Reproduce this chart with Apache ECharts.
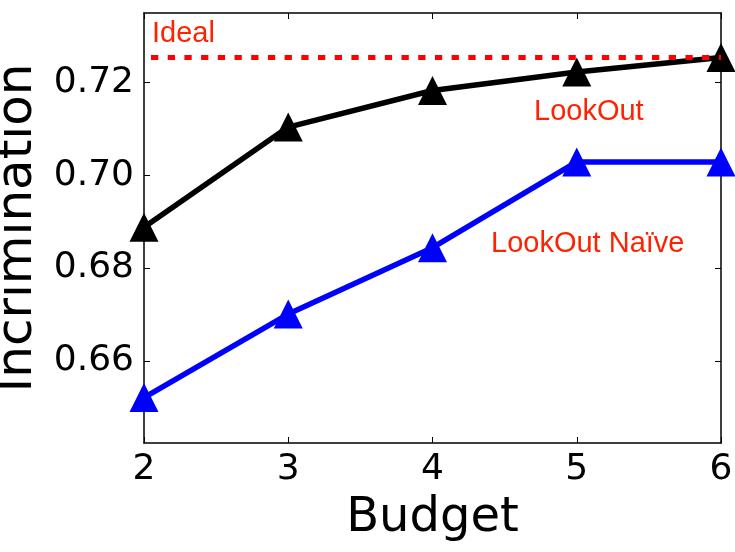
<!DOCTYPE html>
<html>
<head>
<meta charset="utf-8">
<script src="https://cdn.jsdelivr.net/npm/echarts@6/dist/echarts.min.js"></script>
<style>html,body{margin:0;padding:0;background:#fff}#c{width:735px;height:552px}</style>
</head>
<body>
<div id="c"></div>
<script>
const budget = [2, 3, 4, 5, 6];
const lookout = [0.6888, 0.7104, 0.7183, 0.7223, 0.7254];
const lookoutNaive = [0.6521, 0.6701, 0.6844, 0.7029, 0.7029];
const ideal = 0.7254;
const yTicks = [0.66, 0.68, 0.70, 0.72];
const xTicks = [2, 3, 4, 5, 6];
const yMin = 0.6423, yMax = 0.735;
const labels = [
  {text: 'Ideal', x: 152, y: 33.5},
  {text: 'LookOut', x: 534, y: 111.5},
  {text: 'LookOut Naïve', x: 491, y: 244}
];

const chart = echarts.init(document.getElementById('c'), null, {renderer: 'canvas'});
const pair = (xs, ys) => xs.map((x, i) => [x, ys[i]]);
const tickFont = 'DejaVu Sans';
const axBase = {
  axisLine: {show: true, onZero: false, lineStyle: {color: '#000', width: 1.5}},
  axisTick: {show: true, inside: true, length: 6, lineStyle: {color: '#000', width: 1}},
  splitLine: {show: false}
};
chart.setOption({
  animation: false,
  backgroundColor: '#fff',
  grid: {left: 144, right: 14, top: 13, bottom: 109, containLabel: false, outerBoundsMode: 'none'},
  xAxis: [
    Object.assign({}, axBase, {
      type: 'value', position: 'bottom', min: 2, max: 6, interval: 1,
      name: 'Budget', nameLocation: 'middle', nameGap: 52,
      nameTextStyle: {fontFamily: tickFont, fontSize: 48, color: '#000'},
      axisLabel: {show: true, margin: 9, fontFamily: tickFont, fontSize: 36, color: '#000',
        customValues: xTicks},
      axisTick: Object.assign({}, axBase.axisTick, {customValues: xTicks})
    }),
    Object.assign({}, axBase, {
      type: 'value', position: 'top', min: 2, max: 6, interval: 1,
      axisLabel: {show: false},
      axisTick: Object.assign({}, axBase.axisTick, {customValues: xTicks})
    })
  ],
  yAxis: [
    Object.assign({}, axBase, {
      type: 'value', position: 'left', min: yMin, max: yMax,
      name: 'Incrimination', nameLocation: 'middle', nameGap: 101,
      nameTextStyle: {fontFamily: tickFont, fontSize: 50, color: '#000'},
      axisLabel: {show: true, margin: 10, fontFamily: tickFont, fontSize: 36, color: '#000',
        customValues: yTicks, formatter: v => v.toFixed(2), padding: [0, 0, 8, 0]},
      axisTick: Object.assign({}, axBase.axisTick, {customValues: yTicks})
    }),
    Object.assign({}, axBase, {
      type: 'value', position: 'right', min: yMin, max: yMax,
      axisLabel: {show: false},
      axisTick: Object.assign({}, axBase.axisTick, {customValues: yTicks})
    })
  ],
  series: [
    {
      name: 'LookOut', type: 'line', data: pair(budget, lookout),
      symbol: 'triangle', symbolSize: 29, showAllSymbol: true,
      lineStyle: {color: '#000', width: 5.5}, itemStyle: {color: '#000'}, z: 3
    },
    {
      name: 'LookOut Naïve', type: 'line', data: pair(budget, lookoutNaive),
      symbol: 'triangle', symbolSize: 29, showAllSymbol: true,
      lineStyle: {color: '#0000ff', width: 5.5}, itemStyle: {color: '#0000ff'}, z: 3
    },
    {
      name: 'Ideal', type: 'line', data: pair([2, 6], [ideal, ideal]),
      symbol: 'none', silent: true,
      lineStyle: {color: '#ff0000', width: 5, type: [7.3, 9.4], dashOffset: 9.7, cap: 'butt'}, z: 4
    }
  ],
  graphic: labels.map(l => ({
    type: 'text', x: l.x, y: l.y, z: 10,
    style: {text: l.text, fill: '#ff2200', font: '29px "Liberation Sans", Arial, sans-serif',
      textAlign: 'left', textVerticalAlign: 'middle'}
  }))
});
</script>
</body>
</html>
